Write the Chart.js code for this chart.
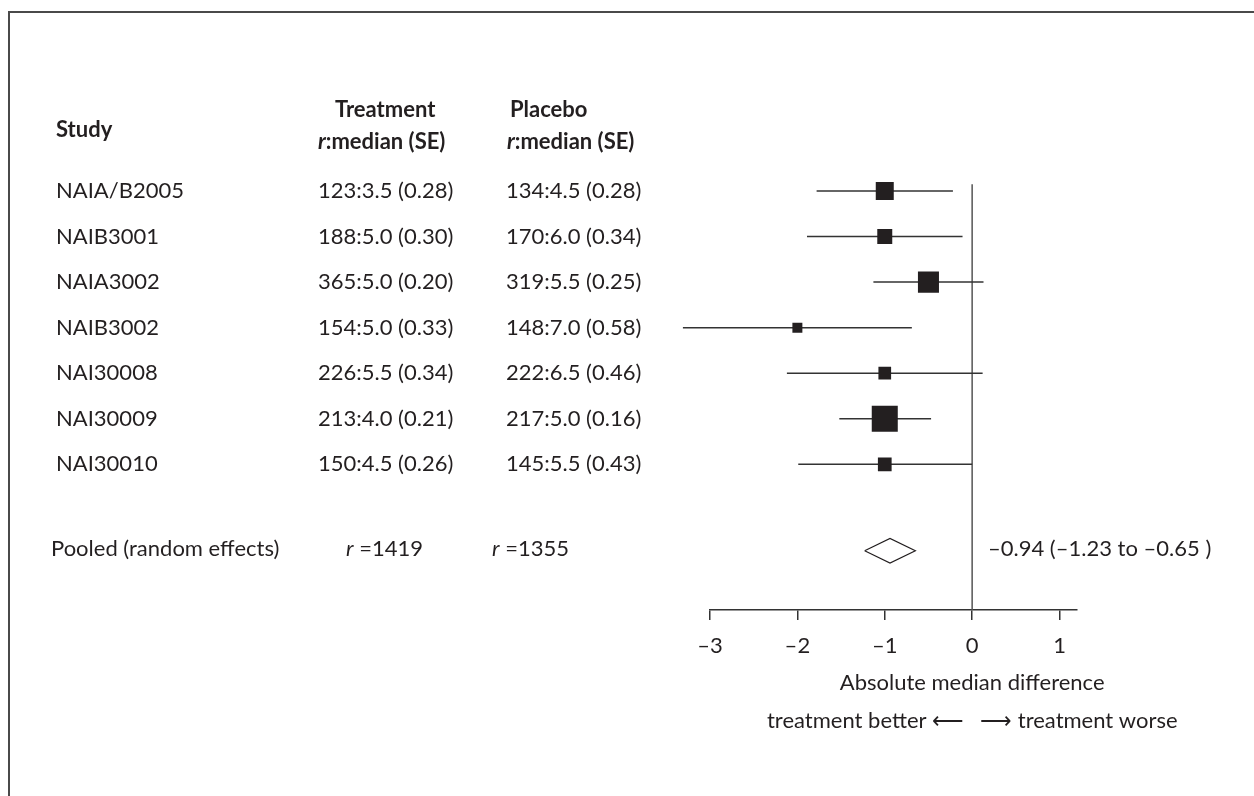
<!DOCTYPE html>
<html>
<head>
<meta charset="utf-8">
<script src="https://cdn.jsdelivr.net/npm/chart.js@4.4.1/dist/chart.umd.min.js"></script>
<style>
  body { margin: 0; background: #fff; }
  canvas { display: block; }
</style>
</head>
<body>
<canvas id="forest" width="1254" height="796"></canvas>
<script>
// study rows
const studies = ["NAIA/B2005", "NAIB3001", "NAIA3002", "NAIB3002", "NAI30008", "NAI30009", "NAI30010"];
const treatment = ["123:3.5 (0.28)", "188:5.0 (0.30)", "365:5.0 (0.20)", "154:5.0 (0.33)", "226:5.5 (0.34)", "213:4.0 (0.21)", "150:4.5 (0.26)"];
const placebo = ["134:4.5 (0.28)", "170:6.0 (0.34)", "319:5.5 (0.25)", "148:7.0 (0.58)", "222:6.5 (0.46)", "217:5.0 (0.16)", "145:5.5 (0.43)"];
const diffs = [-1.0, -1.0, -0.5, -2.0, -1.0, -1.0, -1.0];
const ciLow = [-1.78, -1.89, -1.13, -3.31, -2.12, -1.52, -1.99];
const ciHigh = [-0.22, -0.11, 0.13, -0.69, 0.12, -0.47, 0.0];
const weights = [15.3, 10.6, 20.9, 4.7, 7.6, 32.0, 8.9]; // % weight, drives square size

// pooled (random effects)
const pooledEst = -0.94;
const pooledLow = -1.23;
const pooledHigh = -0.65;
const pooledTreatN = 1419;
const pooledPlaceboN = 1355;

const xTicks = [-3, -2, -1, 0, 1];

const rows = studies.map((s, i) => i + 1);
const pooledRow = 8.9;
const ink = "#231f20";
const FONT = "Lato, 'Open Sans', sans-serif";

const dash = v => (v < 0 ? "\u2013" + Math.abs(v) : String(v));
const dash2 = v => (v < 0 ? "\u2013" + Math.abs(v).toFixed(2) : v.toFixed(2));

const ciSets = studies.map((s, i) => ({
  label: s,
  data: [{ x: ciLow[i], y: rows[i] }, { x: ciHigh[i], y: rows[i] }],
  showLine: true,
  borderColor: "#333",
  borderWidth: 1.5,
  pointRadius: 0,
  clip: false,
  order: 2
}));

const datasets = [
  {
    label: "estimates",
    data: diffs.map((d, i) => ({ x: d, y: rows[i] })),
    pointStyle: "rect",
    pointRadius: weights.map(w => (4.6 * Math.sqrt(w)) / Math.SQRT2),
    backgroundColor: ink,
    borderColor: ink,
    borderWidth: 0,
    order: 0
  },
  {
    label: "pooled",
    data: [
      { x: pooledLow, y: pooledRow },
      { x: pooledEst, y: pooledRow - 0.27 },
      { x: pooledHigh, y: pooledRow },
      { x: pooledEst, y: pooledRow + 0.27 },
      { x: pooledLow, y: pooledRow }
    ],
    showLine: true,
    borderColor: ink,
    borderWidth: 1.2,
    pointRadius: 0,
    order: 1
  },
  ...ciSets,
  {
    label: "no effect",
    data: [{ x: 0, y: 0.85 }, { x: 0, y: 10.2 }],
    showLine: true,
    borderColor: "#555",
    borderWidth: 1.5,
    pointRadius: 0,
    order: 3
  }
];

function runs(ctx, parts, x, y) {
  let cx = x;
  parts.forEach(p => {
    ctx.font = p.f;
    ctx.fillText(p.t, cx, y);
    cx += ctx.measureText(p.t).width;
  });
}

const tablePlugin = {
  id: "table",
  afterDraw(chart) {
    const ctx = chart.ctx;
    const ys = chart.scales.y;
    const xs = chart.scales.x;
    ctx.save();

    // frame
    ctx.strokeStyle = "#4a4a4a";
    ctx.lineWidth = 2;
    ctx.beginPath();
    ctx.moveTo(1254, 12);
    ctx.lineTo(9, 12);
    ctx.lineTo(9, 796);
    ctx.stroke();

    ctx.fillStyle = ink;
    ctx.textBaseline = "middle";
    ctx.textAlign = "left";
    const reg = "22px " + FONT;
    const bold = "bold 22px " + FONT;
    const it = "italic 22px " + FONT;
    const boldIt = "italic bold 22px " + FONT;

    // headers
    ctx.font = bold;
    ctx.fillText("Study", 56, 130);
    ctx.fillText("Treatment", 335, 110);
    ctx.fillText("Placebo", 510, 110);
    runs(ctx, [{ t: "r", f: boldIt }, { t: ":median (SE)", f: bold }], 318, 142);
    runs(ctx, [{ t: "r", f: boldIt }, { t: ":median (SE)", f: bold }], 507, 142);

    // rows
    ctx.font = reg;
    studies.forEach((s, i) => {
      const y = ys.getPixelForValue(rows[i]);
      ctx.fillText(s, 56, y);
      ctx.fillText(treatment[i], 318, y);
      ctx.fillText(placebo[i], 506, y);
    });

    // pooled row
    const py = ys.getPixelForValue(pooledRow) - 2;
    ctx.font = reg;
    ctx.fillText("Pooled (random effects)", 51, py);
    runs(ctx, [{ t: "r", f: it }, { t: " =" + pooledTreatN, f: reg }], 346, py);
    runs(ctx, [{ t: "r", f: it }, { t: " =" + pooledPlaceboN, f: reg }], 492, py);
    ctx.font = reg;
    ctx.fillText(dash2(pooledEst) + " (" + dash2(pooledLow) + " to " + dash2(pooledHigh) + " )", 988, py);

    // axis captions centred on the no-effect line
    const x0 = xs.getPixelForValue(0);
    ctx.textAlign = "center";
    ctx.fillText("Absolute median difference", x0, 683);
    ctx.textAlign = "right";
    ctx.fillText("treatment better \u27F5", x0 - 8, 721);
    ctx.textAlign = "left";
    ctx.fillText("\u27F6 treatment worse", x0 + 8, 721);

    ctx.restore();
  }
};

new Chart(document.getElementById("forest").getContext("2d"), {
  type: "scatter",
  data: { datasets },
  options: {
    responsive: false,
    animation: false,
    layout: { padding: { left: 710, right: 177, top: 145.5, bottom: 136 } },
    plugins: { legend: { display: false }, tooltip: { enabled: false } },
    scales: {
      x: {
        type: "linear",
        min: -3,
        max: 1.2,
        afterFit: s => { s.height = 50; },
        afterBuildTicks: s => { s.ticks = xTicks.map(v => ({ value: v })); },
        border: { color: "#333", width: 1.5 },
        grid: { drawOnChartArea: false, tickLength: 10, color: "#333", lineWidth: 1.5 },
        ticks: {
          padding: 13,
          color: ink,
          font: { family: FONT, size: 22 },
          callback: v => dash(v)
        }
      },
      y: { type: "linear", min: 0, max: 10.2, reverse: true, display: false }
    }
  },
  plugins: [tablePlugin]
});
</script>
</body>
</html>
